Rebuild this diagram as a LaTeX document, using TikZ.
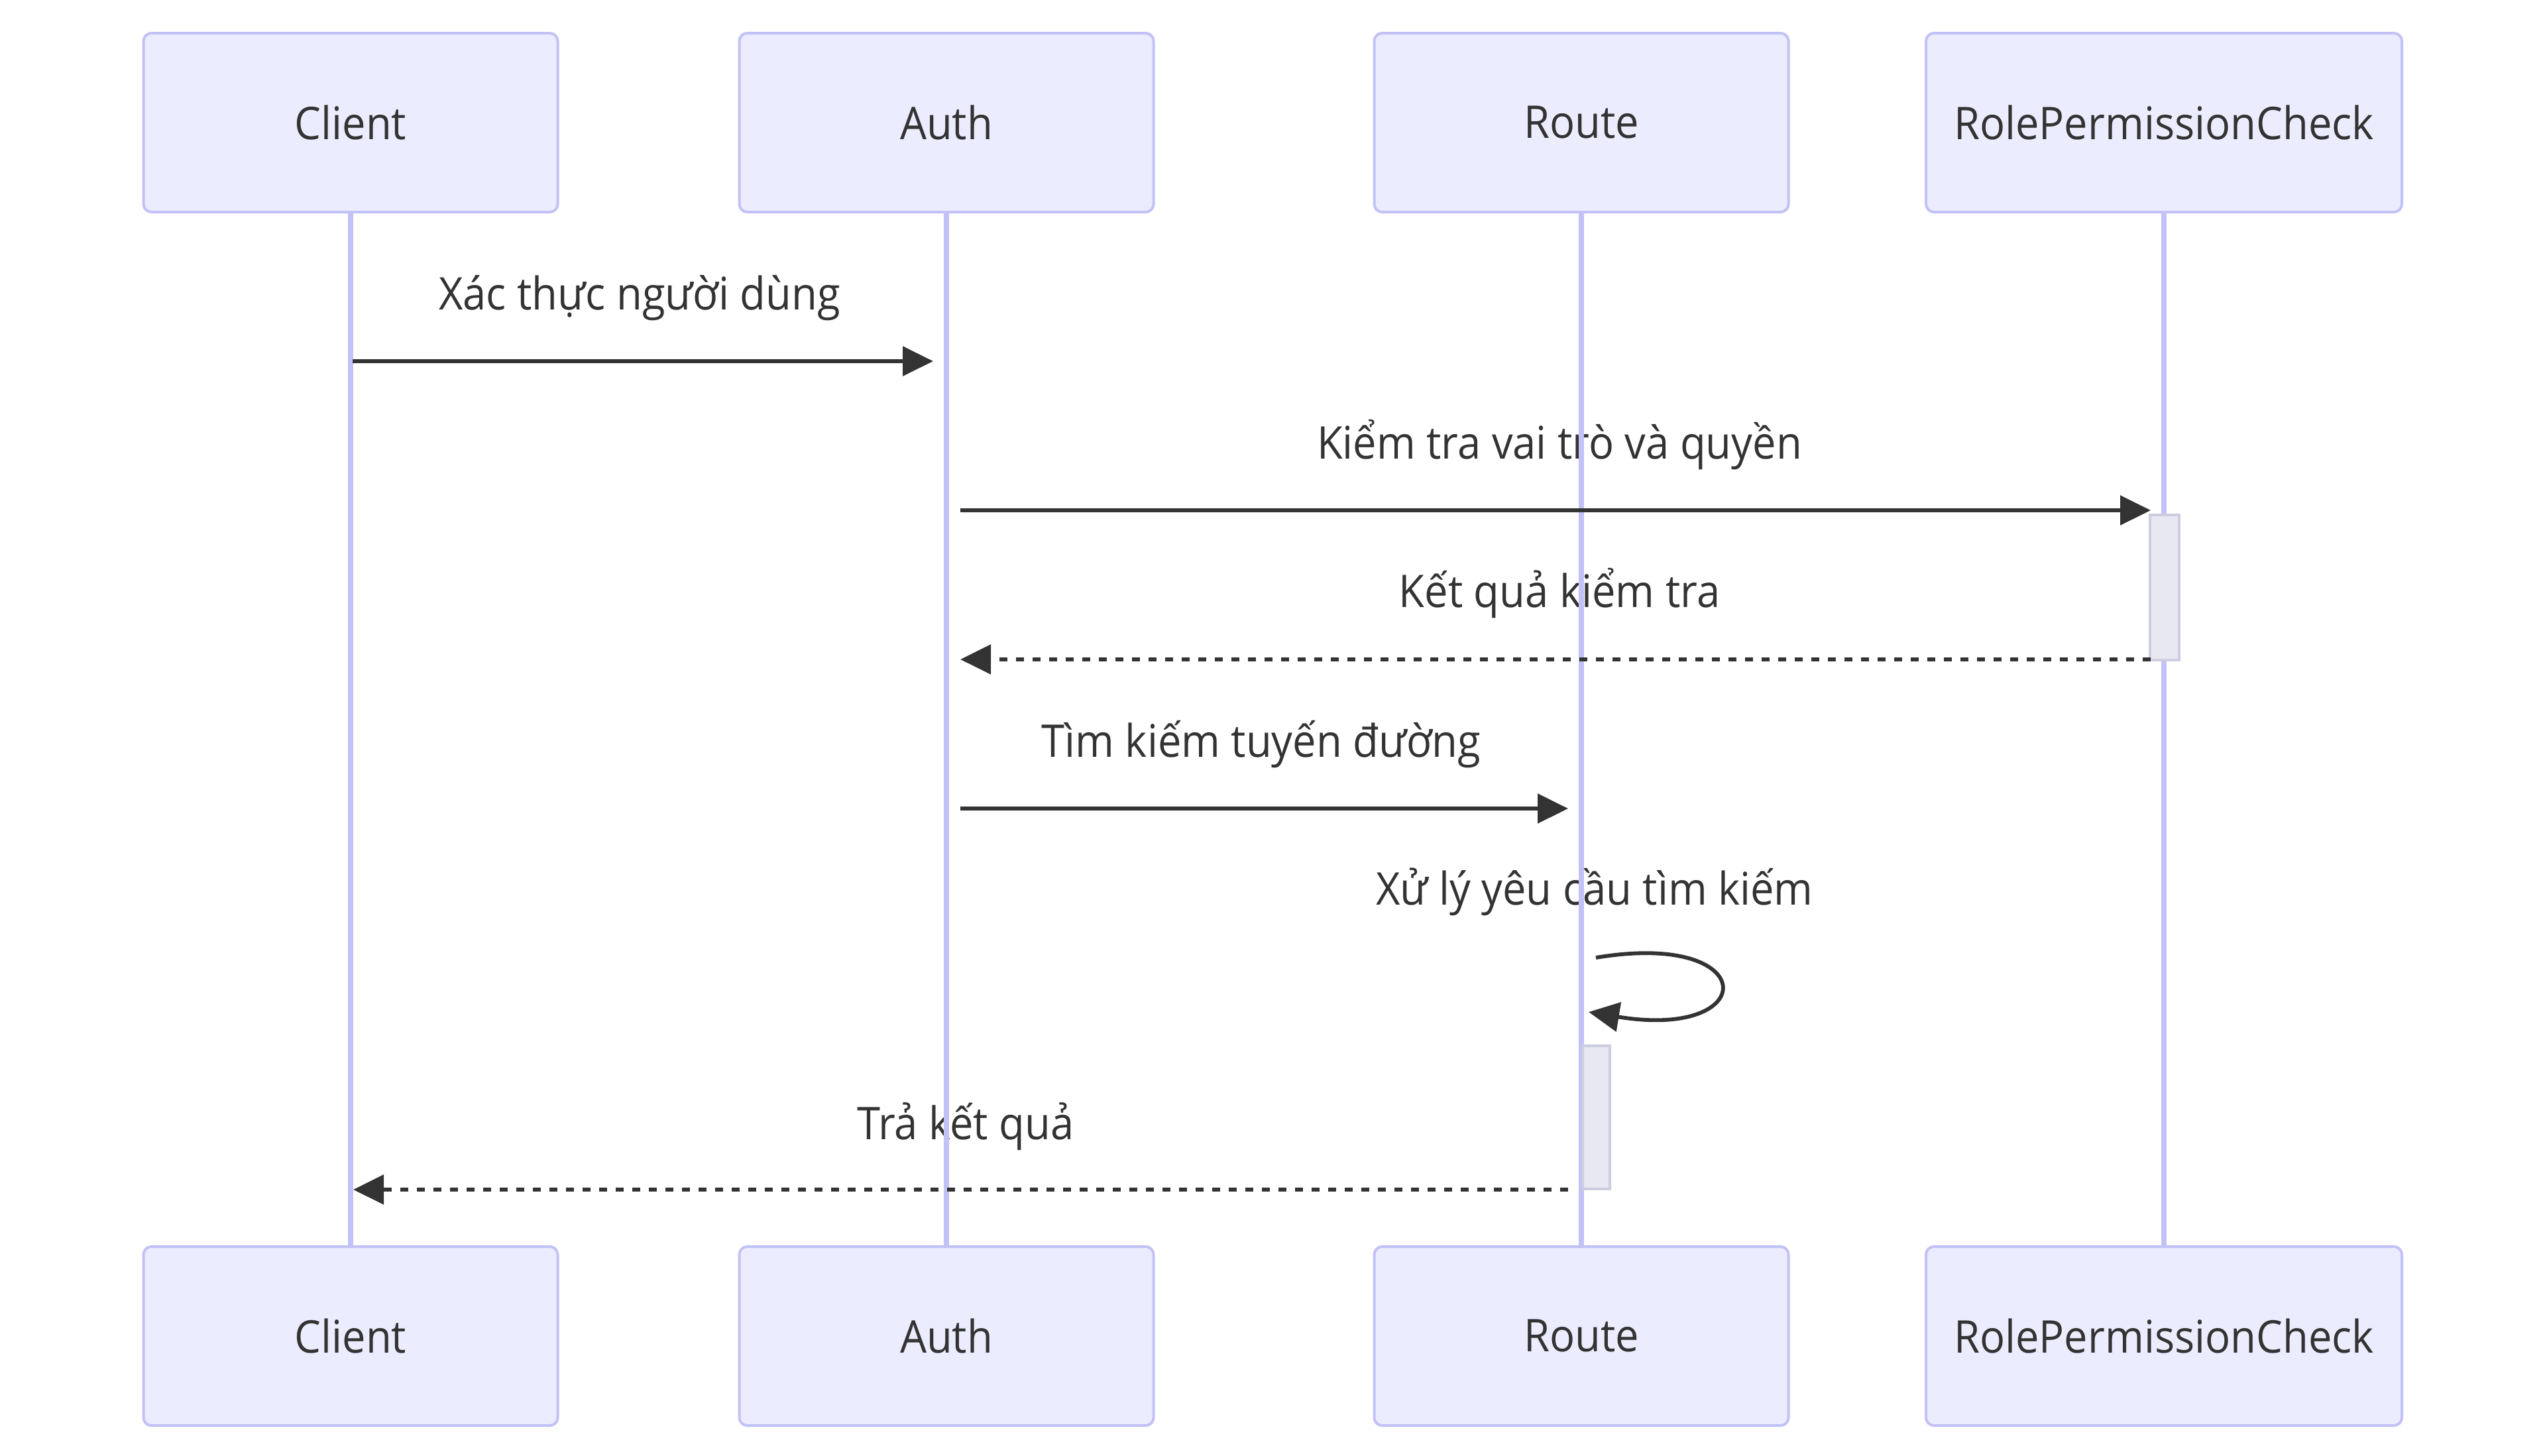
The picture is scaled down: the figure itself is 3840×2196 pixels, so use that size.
\documentclass[tikz,border=0pt]{standalone}
\usepackage{fontspec}
\setmainfont{Open Sans}[FakeStretch=0.93]
\usetikzlibrary{arrows.meta}
\definecolor{actfill}{HTML}{ECECFF}
\definecolor{actline}{HTML}{C2C2F6}
\definecolor{ink}{HTML}{333333}
\definecolor{actvfill}{HTML}{E8E8F3}
\definecolor{actvline}{HTML}{CDCDE0}
\tikzset{
  actor/.style={draw=actline, line width=1pt, fill=actfill, rounded corners=3pt,
    minimum height=67.5pt, minimum width=156.25pt, inner sep=0pt,
    font=\fontsize{17}{20}\selectfont, text=ink},
  msglabel/.style={font=\fontsize{17}{20}\selectfont, text=ink, anchor=base, inner sep=0pt},
  lifeline/.style={draw=actline, line width=1.9pt},
  call/.style={draw=ink, line width=1.45pt, -{Triangle[length=11.5pt,width=11pt]}},
  reply/.style={call, dash pattern=on 3.125pt off 3.125pt},
  activation/.style={draw=actvline, line width=1pt, fill=actvfill, inner sep=0pt}
}
\begin{document}
\begin{tikzpicture}[x=0.25pt,y=-0.25pt]
\useasboundingbox (0,0) rectangle (3840,2196);
% message labels
\node[msglabel] (l1) at (965,467) {Xác thực người dùng};
\node[msglabel] (l2) at (2353,692) {Kiểm tra vai trò và quyền};
\node[msglabel] (l3) at (2353,916) {Kết quả kiểm tra};
\node[msglabel] (l4) at (1903,1142) {Tìm kiếm tuyến đường};
\node[msglabel] (l5) at (2406,1365) {Xử lý yêu cầu tìm kiếm};
\node[msglabel] (l6) at (1457,1719) {Trả kết quả};
% actors
\node[actor] (cT) at (529,185) {Client};
\node[actor] (aT) at (1428,185) {Auth};
\node[actor] (rT) at (2386,185) {Route};
\node[actor, minimum width=179.5pt] (pT) at (3265,185) {RolePermissionCheck};
\node[actor] (cB) at (529,2016) {Client};
\node[actor] (aB) at (1428,2016) {Auth};
\node[actor] (rB) at (2386,2016) {Route};
\node[actor, minimum width=179.5pt] (pB) at (3265,2016) {RolePermissionCheck};
% lifelines
\draw[lifeline] (cT.south) -- (cB.north);
\draw[lifeline] (aT.south) -- (aB.north);
\draw[lifeline] (rT.south) -- (rB.north);
\draw[lifeline] (pT.south) -- (pB.north);
% activations
\node[activation, minimum width=11pt, minimum height=54.75pt] (actP) at (3265.5,886.5) {};
\node[activation, minimum width=10.25pt, minimum height=54pt] (actR) at (2408.5,1686) {};
% message end points
\coordinate (m1s) at (532,545);  \coordinate (m1e) at (1408,545);
\coordinate (m2s) at (1449,770); \coordinate (m2e) at (3245,770);
\coordinate (m3s) at (3245,995); \coordinate (m3e) at (1449,995);
\coordinate (m4s) at (1449,1220); \coordinate (m4e) at (2366,1220);
\coordinate (m5s) at (2408,1445); \coordinate (m5e) at (2397,1527);
\coordinate (m6s) at (2366,1795); \coordinate (m6e) at (533,1795);
% messages
\draw[call] (m1s) -- (m1e);
\draw[call] (m2s) -- (m2e);
\draw[reply] (m3s) -- (m3e);
\draw[call] (m4s) -- (m4e);
\draw[call] (m5s) .. controls (2658,1403) and (2658,1570) .. (m5e);
\draw[reply] (m6s) -- (m6e);
\end{tikzpicture}
\end{document}
